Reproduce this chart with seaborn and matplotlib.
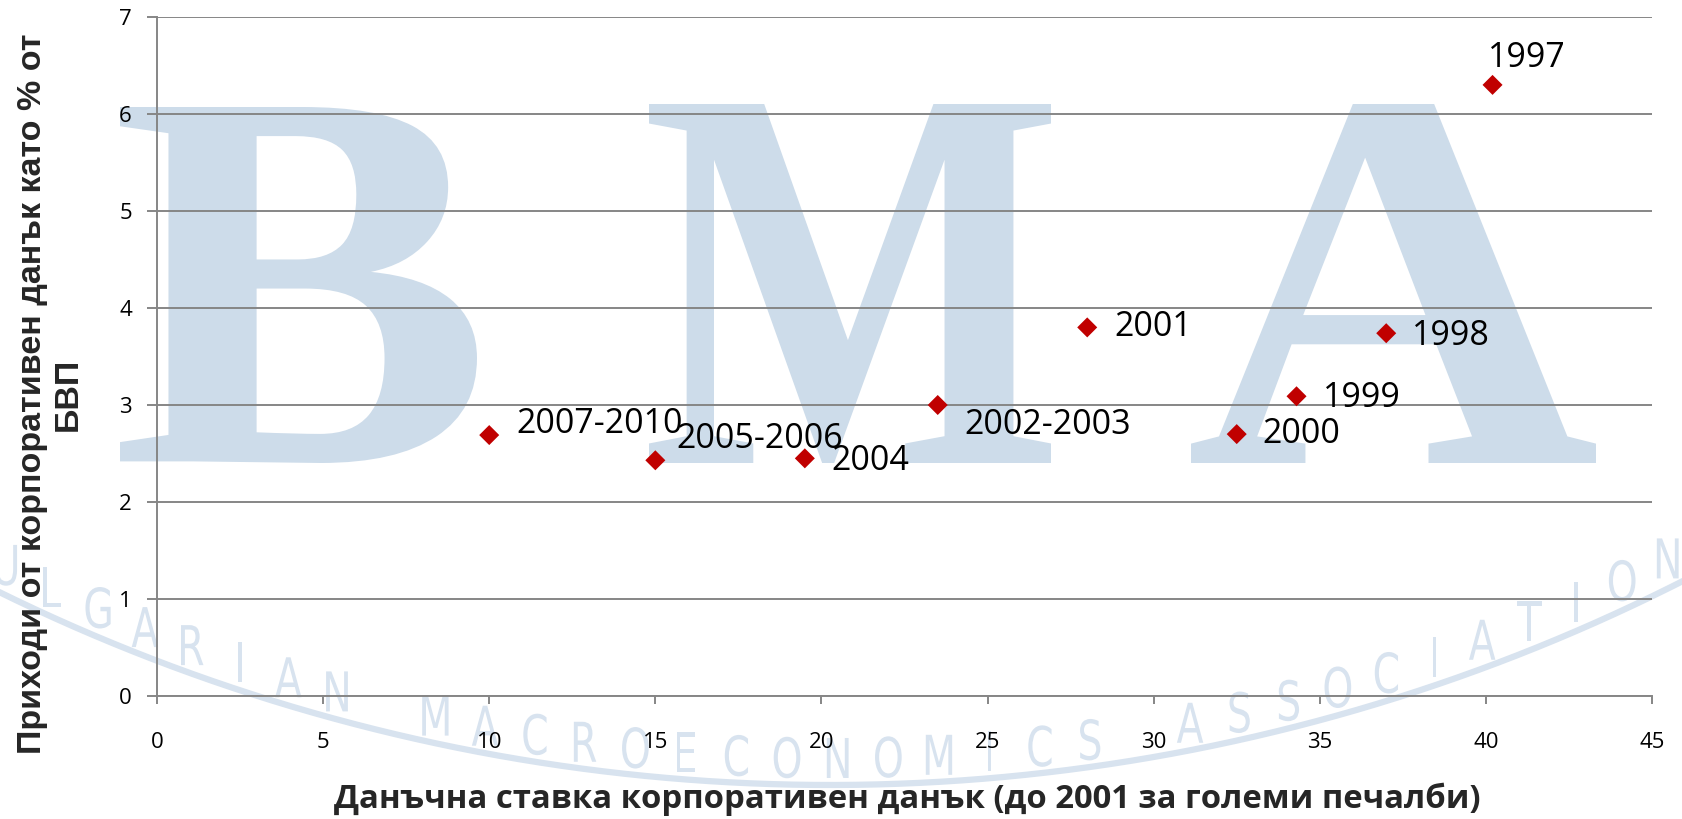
import numpy as np
import pandas as pd
import seaborn as sns
import matplotlib.pyplot as plt
from matplotlib.textpath import TextPath
from matplotlib.font_manager import FontProperties
from matplotlib.patches import PathPatch
from matplotlib.lines import Line2D
from matplotlib.transforms import Affine2D

# chart values
tax_rate = [40.2, 37.0, 34.3, 32.5, 28.0, 23.5, 19.5, 15.0, 10.0]
revenue = [6.3, 3.74, 3.09, 2.70, 3.80, 3.0, 2.45, 2.43, 2.69]
period = ["1997", "1998", "1999", "2000", "2001", "2002-2003", "2004", "2005-2006", "2007-2010"]

x_ticks = [0, 5, 10, 15, 20, 25, 30, 35, 40, 45]
y_ticks = [0, 1, 2, 3, 4, 5, 6, 7]

x_title = "Данъчна ставка корпоративен данък (до 2001 за големи печалби)"
y_title = "Приходи от корпоративен данък като % от\nБВП"

# label offsets in pixels (dx, dy) - placement only
label_offsets = [(-5, 27), (26, -3), (26, -2), (26, 0), (27, 0),
                 (27, -20), (27, -3), (21, 21), (27, 11)]

W, H = 1682, 819
grid_grey = "#868686"
wm_blue = "#cddcea"
wm_light = "#d8e3ef"

sns.set_theme(style="white")
plt.rcParams['font.family'] = ['Open Sans', 'DejaVu Sans']

df = pd.DataFrame({"rate": tax_rate, "revenue": revenue, "period": period})

fig = plt.figure(figsize=(W / 100, H / 100), dpi=100)
fig.patch.set_facecolor("white")


# watermark: glyph drawn into a pixel box (y measured from top)
def add_glyph(ch, fp, w, h, cx, cy, color=wm_blue):
    tp = TextPath((0, 0), ch, size=100, prop=fp)
    ext = tp.get_extents()
    tr = (Affine2D()
          .translate(-(ext.x0 + ext.x1) / 2, -(ext.y0 + ext.y1) / 2)
          .scale(w / ext.width, h / ext.height)
          .translate(cx, H - cy)
          .scale(1 / W, 1 / H))
    fig.add_artist(PathPatch(tr.transform_path(tp), facecolor=color,
                             edgecolor="none", transform=fig.transFigure,
                             zorder=-5))


serif = FontProperties(family="Liberation Serif", weight="bold")
for ch, (x0, y0, x1, y1) in [("B", (120, 107, 477, 463)),
                             ("M", (649, 104, 1051, 463)),
                             ("A", (1191, 104, 1596, 463))]:
    add_glyph(ch, serif, x1 - x0, y1 - y0, (x0 + x1) / 2, (y0 + y1) / 2)

# arc text "BULGARIAN MACROECONOMICS ASSOCIATION" (letters stay upright)
sans = FontProperties(family="DejaVu Sans")
cap = TextPath((0, 0), "H", size=100, prop=sans).get_extents()
sy = 40 / cap.height
sx = 0.72 * sy
arc_cx, arc_cy = 830, -1100
arc_text = "BULGARIAN MACROECONOMICS ASSOCIATION"
for i, ch in enumerate(arc_text):
    if ch == " ":
        continue
    th = np.radians(-23.2 + (i - 3) * 1.5625)
    px = arc_cx + 1858 * np.sin(th)
    py = arc_cy + 1858 * np.cos(th)
    ext = TextPath((0, 0), ch, size=100, prop=sans).get_extents()
    add_glyph(ch, sans, ext.width * sx, ext.height * sy, px, py, color=wm_light)

ang = np.radians(np.linspace(-32, 32, 200))
fig.add_artist(Line2D((arc_cx + 1885 * np.sin(ang)) / W,
                      1 - (arc_cy + 1885 * np.cos(ang)) / H,
                      color=wm_light, lw=4.5, transform=fig.transFigure,
                      zorder=-5))

# chart
ax = fig.add_axes([157 / W, 1 - 696 / H, (1652 - 157) / W, (696 - 17) / H])
ax.set_facecolor("none")
ax.set_axisbelow(True)

sns.scatterplot(data=df, x="rate", y="revenue", marker="D", s=104,
                color="#c00000", edgecolor="none", linewidth=0,
                ax=ax, legend=False, zorder=3)

for (xv, yv, lab), (dx, dy) in zip(zip(tax_rate, revenue, period), label_offsets):
    ax.annotate(lab, (xv, yv), xytext=(dx, dy), textcoords="offset pixels",
                ha="left", va="center", fontsize=24.5, color="black", zorder=4)

ax.set_xlim(0, 45)
ax.set_ylim(0, 7)
ax.set_xticks(x_ticks)
ax.set_yticks(y_ticks)
ax.set_xlabel("")
ax.set_ylabel("")
ax.grid(axis="y", color=grid_grey, lw=1.4)
ax.grid(axis="x", visible=False)
for side in ["top", "right"]:
    ax.spines[side].set_visible(False)
for side in ["left", "bottom"]:
    ax.spines[side].set_color(grid_grey)
    ax.spines[side].set_linewidth(1.4)
ax.tick_params(axis="x", direction="out", length=6, width=1.4, color=grid_grey,
               pad=20, labelsize=16, labelcolor="black", bottom=True)
ax.tick_params(axis="y", direction="out", length=7, width=1.4, color=grid_grey,
               pad=11, labelsize=16, labelcolor="black", left=True)

fig.text(907 / W, 1 - 799 / H, x_title, ha="center", va="center",
         fontsize=23.7, fontweight="bold")
fig.text(50 / W, 1 - 394 / H, y_title, rotation=90, ha="center", va="center",
         multialignment="center", fontsize=24.5, fontweight="bold",
         family=["Liberation Sans", "DejaVu Sans"])

fig.savefig("out.png", dpi=100)
